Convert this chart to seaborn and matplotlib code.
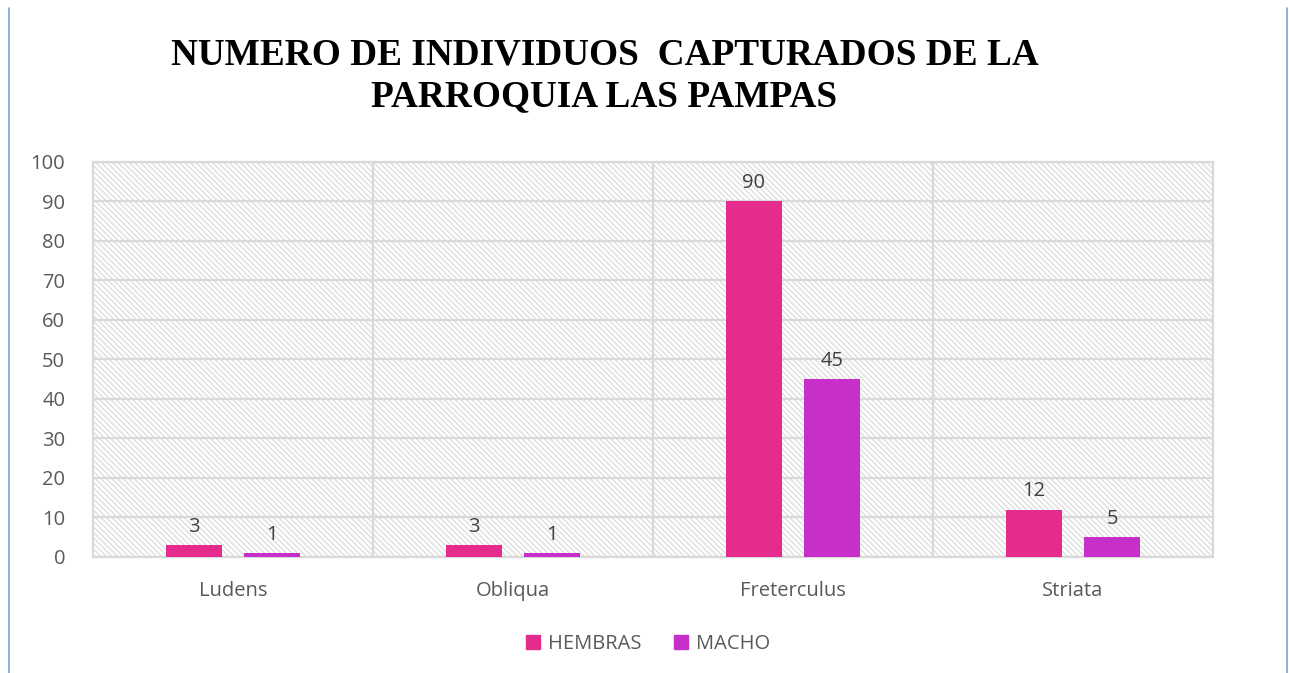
import matplotlib
matplotlib.use("Agg")
import matplotlib.pyplot as plt
import pandas as pd
import seaborn as sns
from matplotlib.lines import Line2D
from matplotlib.patches import Rectangle

species = ["Ludens", "Obliqua", "Freterculus", "Striata"]
hembras = [3, 3, 90, 12]
macho = [1, 1, 45, 5]
series_names = ["HEMBRAS", "MACHO"]
yticks = [0, 10, 20, 30, 40, 50, 60, 70, 80, 90, 100]

df = pd.DataFrame({
    "especie": species * 2,
    "sexo": [series_names[0]] * len(species) + [series_names[1]] * len(species),
    "n": hembras + macho,
})

sns.set_theme(style="white")
plt.rcParams["font.family"] = ["Open Sans", "DejaVu Sans"]

fig = plt.figure(figsize=(12.89, 6.73), dpi=100)
ax = fig.add_axes([0.0721, 0.1724, 0.8689, 0.5869])

# hatched plot area background
ax.add_patch(Rectangle((0, 0), 1, 1, transform=ax.transAxes, facecolor="white",
                       edgecolor="#dedede", hatch="\\\\\\\\\\\\", lw=0, zorder=0))

palette = {"HEMBRAS": "#E32C8E", "MACHO": "#C72FCB"}
sns.barplot(data=df, x="especie", y="n", hue="sexo", palette=palette, width=0.56,
            gap=0.29, saturation=1, linewidth=0, ax=ax, zorder=3, legend=False)

for cont in ax.containers:
    ax.bar_label(cont, padding=6, fontsize=14.5, color="#404040")

ax.set_xlim(-0.5, len(species) - 0.5)
ax.set_ylim(0, 100)
ax.set_yticks(yticks)
ax.set_xticks(range(len(species)), species)
ax.set_xticks([0.5, 1.5, 2.5], minor=True)
ax.grid(axis="y", which="major", color="#d9d9d9", lw=1.6, zorder=1)
ax.grid(axis="x", which="minor", color="#d9d9d9", lw=1.6, zorder=1)
ax.grid(axis="x", which="major", visible=False)
ax.set_axisbelow(True)
for side in ["top", "bottom", "left", "right"]:
    ax.spines[side].set_color("#d9d9d9")
    ax.spines[side].set_linewidth(1.6)
ax.tick_params(axis="both", which="both", length=0, labelsize=14.5, colors="#595959")
ax.tick_params(axis="x", pad=17)
ax.tick_params(axis="y", pad=20)
ax.set_xlabel("")
ax.set_ylabel("")

fig.text(0.469, 0.887, "NUMERO DE INDIVIDUOS  CAPTURADOS DE LA\nPARROQUIA LAS PAMPAS",
         ha="center", va="center", fontsize=26.8, fontweight="bold",
         family="Liberation Serif", color="black", linespacing=1.25)

handles = [Rectangle((0, 0), 1, 1, color=palette[s]) for s in series_names]
fig.legend(handles, series_names, loc="center", bbox_to_anchor=(0.503, 0.043), ncol=2,
           frameon=False, fontsize=14.5, labelcolor="#595959", handlelength=0.7,
           handleheight=0.7, handletextpad=0.4, columnspacing=1.6)

# blue side borders
fig.add_artist(Line2D([9 / 1289, 9 / 1289], [0, 1 - 8 / 673], color="#6fa8dc", lw=1.2))
fig.add_artist(Line2D([1287 / 1289, 1287 / 1289], [0, 1 - 8 / 673], color="#6fa8dc", lw=1.2))

fig.savefig("out.png", dpi=100)
